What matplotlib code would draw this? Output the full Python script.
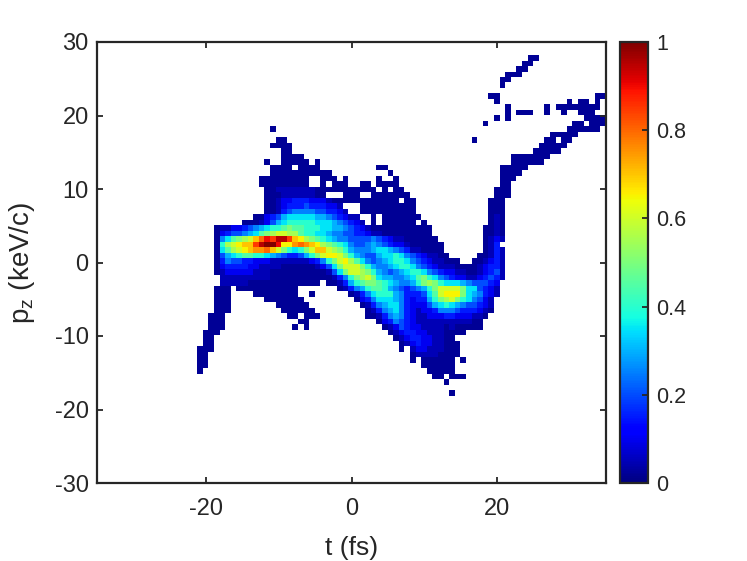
import numpy as np
import matplotlib
matplotlib.use("Agg")
import matplotlib.pyplot as plt

plt.rcParams['font.family'] = ['Liberation Sans', 'DejaVu Sans']
plt.rcParams['axes.unicode_minus'] = False

# Binned density, top row first. '.' empty, '0' = 0.02, other base-36 digits = digit * 0.05.
# Groups of ten columns; '_' is a group of ten empty columns.
density_rows = [
"_ _ _ _ _ _ .00",
"_ _ _ _ _ _ 00",
"_ _ _ _ _ .........0 0",
"_ _ _ _ _ .......000",
"_ _ _ _ _ ......00",
"_ _ _ _ _ ......0",
"",
"_ _ _ _ _ ....00.... _ ...00",
"_ _ _ _ _ .....0.... ........0. 00.0.",
"_ _ _ _ _ .......0.. ....0.0000 0000.",
"_ _ _ _ _ .......0.0 00..0..0.. 000..",
"_ _ _ _ _ .....0.0.. _ .0000",
"_ _ _ _ _ ...0...... .........0 0.000",
"_ .....0.... _ _ _ _ ........00 0000.",
"_ _ _ _ _ _ .....00000",
"_ ......00.. _ _ _ .0........ ....00.00.",
"_ .....0000. _ _ _ _ ...00000..",
"_ .......00. _ _ _ _ ..00000...",
"_ .......000 0......... _ _ ........00 00000.....",
"_ ....0..000 00.0...... _ _ ........00 0000......",
"_ .....0000. 0000...... ....00.... _ ......0000 0.........",
"_ .....00000 000000.... ......0... _ ......0000",
"_ ...0000000 00..000.0. ....0..0.. _ ......000.",
"_ ...0000000 00..0.000. .00.0000.. _ ......00..",
"_ ....001111 1110000000 0000.0.00. _ .....000..",
"_ ....000111 11100...00 0..0000000 _ .....000..",
"_ ....001223 3322210000 00000000.0 0......... ....000...",
"_ ....001233 34333221.. .000000000 0......... ....000...",
"_ ....001345 555443321. .000000000 0......... ....000...",
"_ ..00234677 7776654321 1..0.00000 00........ ....010...",
"_ 0001246788 8887776543 21.0.00000 0.0....... ....010...",
".....01122 34567889a9 9888776654 3210000000 0000...... ...0010...",
".....02344 5679abccbb 9887765544 3321100000 0000...... ...0010...",
".....0579a bcegihjjhe dba9876554 4445432110 00000..... ...0121...",
".....08bcd eehjkkiddf gfedba9875 4456543221 000000.... ...013....",
".....079bc deffgeca87 8aceecba86 5556776543 110000.... ...0131...",
".....04678 9988765433 468acddca8 6544677875 4321100... ..00131...",
".....03544 3322211111 112358acdb 9754567887 543211000. .001231...",
".....02333 3221111000 0001247acc ca86556788 7543211100 0012331...",
".....01222 2211100000 00000147ac cba8654567 8875432211 0012341...",
"......1111 1111100000 0000001358 abca766556 79a8754322 1123431...",
"......1111 1000000000 0000.00136 89aa987655 68aba87776 544432....",
".....000.0 0000000000 .......013 5689986543 4568acccca 774321....",
".....000.. ..00000000 ..0......0 1357888653 33479cddda 765321....",
".....000.. ....000000 0......... 0235777653 23368abca8 75421.....",
".....000.. ......0000 00........ .013567753 2224678765 44321.....",
".....000.. .......000 000....... ..01356753 2122355543 33210.....",
"....000... ........00 .000...... ..00135653 2112223322 2110......",
"....000... _ 00........ ....023543 2111111111 100.......",
"....000... .........0 .0........ .....01243 2211110100 000.......",
"...000.... _ _ ......0123 3221110000",
"...00..... _ _ .......012 33221100..",
"...00..... _ _ ........01 232211000.",
"..000..... _ _ ........0. 122111000.",
"..00...... _ _ _ 011110000.",
"..00...... _ _ _ 0.000000.0",
"..00...... _ _ _ ..000000..",
"..0....... _ _ _ ...00000..",
"_ _ _ _ ....00.000",
"_ _ _ _ ......0...",
"",
"_ _ _ _ .......0..",
]
t_first_edge = -22.76
t_bin = 0.77
p_first_edge = 28.23
p_bin = 0.748

n_cols = 75
xticks = [-20, 0, 20]
yticks = [-30, -20, -10, 0, 10, 20, 30]
cbar_ticks = [0, 0.2, 0.4, 0.6, 0.8, 1]
cbar_labels = ['0', '0.2', '0.4', '0.6', '0.8', '1']


def decode(row):
    row = row.replace('_', '.' * 10).replace(' ', '').ljust(n_cols, '.')[:n_cols]
    out = []
    for ch in row:
        if ch == '.':
            out.append(np.nan)
        elif ch == '0':
            out.append(0.02)
        else:
            out.append(int(ch, 36) * 0.05)
    return out


Z = np.ma.masked_invalid(np.array([decode(r) for r in density_rows]))
t_edges = t_first_edge + t_bin * np.arange(Z.shape[1] + 1)
p_edges = p_first_edge - p_bin * np.arange(Z.shape[0] + 1)

W, H = 747, 561
fig = plt.figure(figsize=(W / 100, H / 100), dpi=100)
ax = fig.add_axes([97 / W, 1 - 483 / H, (606 - 97) / W, (483 - 42) / H])
cax = fig.add_axes([620 / W, 1 - 483 / H, (648 - 620) / W, (483 - 42) / H])

mesh = ax.pcolormesh(t_edges, p_edges, Z, cmap='jet', vmin=0, vmax=1, shading='flat')
ax.set_xlim(-35, 35)
ax.set_ylim(-30, 30)
ax.set_xticks(xticks)
ax.set_yticks(yticks)

dark = '#262626'
ax.tick_params(direction='in', length=4, width=1.3, top=True, right=True,
               labelsize=17, colors=dark)
ax.tick_params(axis='x', pad=11)
ax.tick_params(axis='y', pad=6)
ax.set_xlabel('t (fs)', fontsize=19, color=dark, labelpad=11.5)
ax.set_ylabel('p$_{\\mathregular{z}}$ (keV/c)', fontsize=20, color=dark, labelpad=12.5)

cb = fig.colorbar(mesh, cax=cax)
cb.set_ticks(cbar_ticks)
cb.set_ticklabels(cbar_labels)
cax.tick_params(direction='in', length=4, width=1.3, labelsize=15.5, colors=dark, pad=6)

for a in (ax, cax):
    for s in a.spines.values():
        s.set_linewidth(1.6)
        s.set_color(dark)
cb.outline.set_linewidth(1.6)
cb.outline.set_edgecolor(dark)

fig.savefig('out.png', dpi=100)
